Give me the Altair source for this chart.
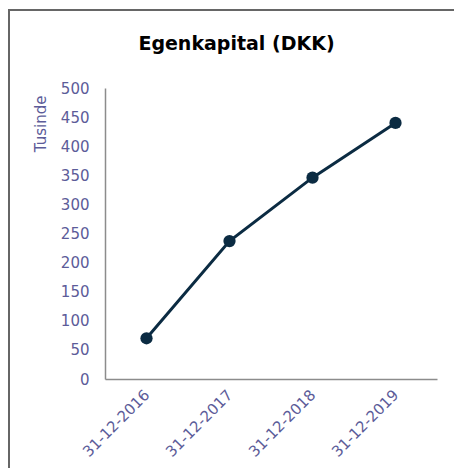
import altair as alt
import pandas as pd

dates = ["31-12-2016", "31-12-2017", "31-12-2018", "31-12-2019"]
values = [70, 237, 346, 440]
y_ticks = list(range(0, 501, 50))
chart_title = "Egenkapital (DKK)"

df = pd.DataFrame({"dato": dates, "vaerdi": values})

label_color = "#5c5c99"
axis_color = "#8c8c8c"
line_color = "#0b2b42"
font = "DejaVu Sans"

x_enc = alt.X("dato:O", sort=dates, scale=alt.Scale(type="point", padding=0.5),
              axis=alt.Axis(title=None, labelAngle=-45, labelColor=label_color,
                            labelFont=font, labelFontSize=15, labelPadding=13,
                            labelAlign="right", labelBaseline="middle",
                            labelOverlap=False,
                            ticks=False, domainColor=axis_color, domainWidth=1.5,
                            grid=False))
y_enc = alt.Y("vaerdi:Q", scale=alt.Scale(domain=[0, 500], nice=False),
              axis=alt.Axis(title="Tusinde", values=y_ticks, labelColor=label_color,
                            labelFont=font, labelFontSize=15, labelPadding=16,
                            labelOverlap=False,
                            ticks=False, domainColor=axis_color, domainWidth=1.5,
                            grid=False, titleColor=label_color, titleFont=font,
                            titleFontSize=15, titleFontWeight="normal",
                            titleAlign="right", titleAngle=-90, titleBaseline="alphabetic",
                            titleX=-60, titleY=7))

base = alt.Chart(df)

line = base.mark_line(color=line_color, strokeWidth=3).encode(x=x_enc, y=y_enc)
points = base.mark_circle(color=line_color, size=150, opacity=1).encode(x=x_enc, y=y_enc)

frame_df = pd.DataFrame({"f": [0], "t": [chart_title]})
left_border = alt.Chart(frame_df).mark_rule(color="#666666", strokeWidth=2).encode(
    x=alt.value(-96), y=alt.value(-78), y2=alt.value(380)
)
top_border = alt.Chart(frame_df).mark_rule(color="#666666", strokeWidth=2).encode(
    x=alt.value(-97), x2=alt.value(349), y=alt.value(-78)
)
title_text = alt.Chart(frame_df).mark_text(
    font=font, fontSize=19, fontWeight="bold", color="#000000",
    align="center", baseline="middle"
).encode(text="t:N", x=alt.value(131.5), y=alt.value(-44))

chart = alt.layer(line, points, left_border, top_border, title_text).properties(
    width=332,
    height=291,
    padding={"left": 97, "top": 80, "right": 17, "bottom": 89},
    autosize=alt.AutoSizeParams(type="none"),
).configure_view(stroke=None)

chart.save("out.html", embed_options={"renderer": "svg", "actions": False})
